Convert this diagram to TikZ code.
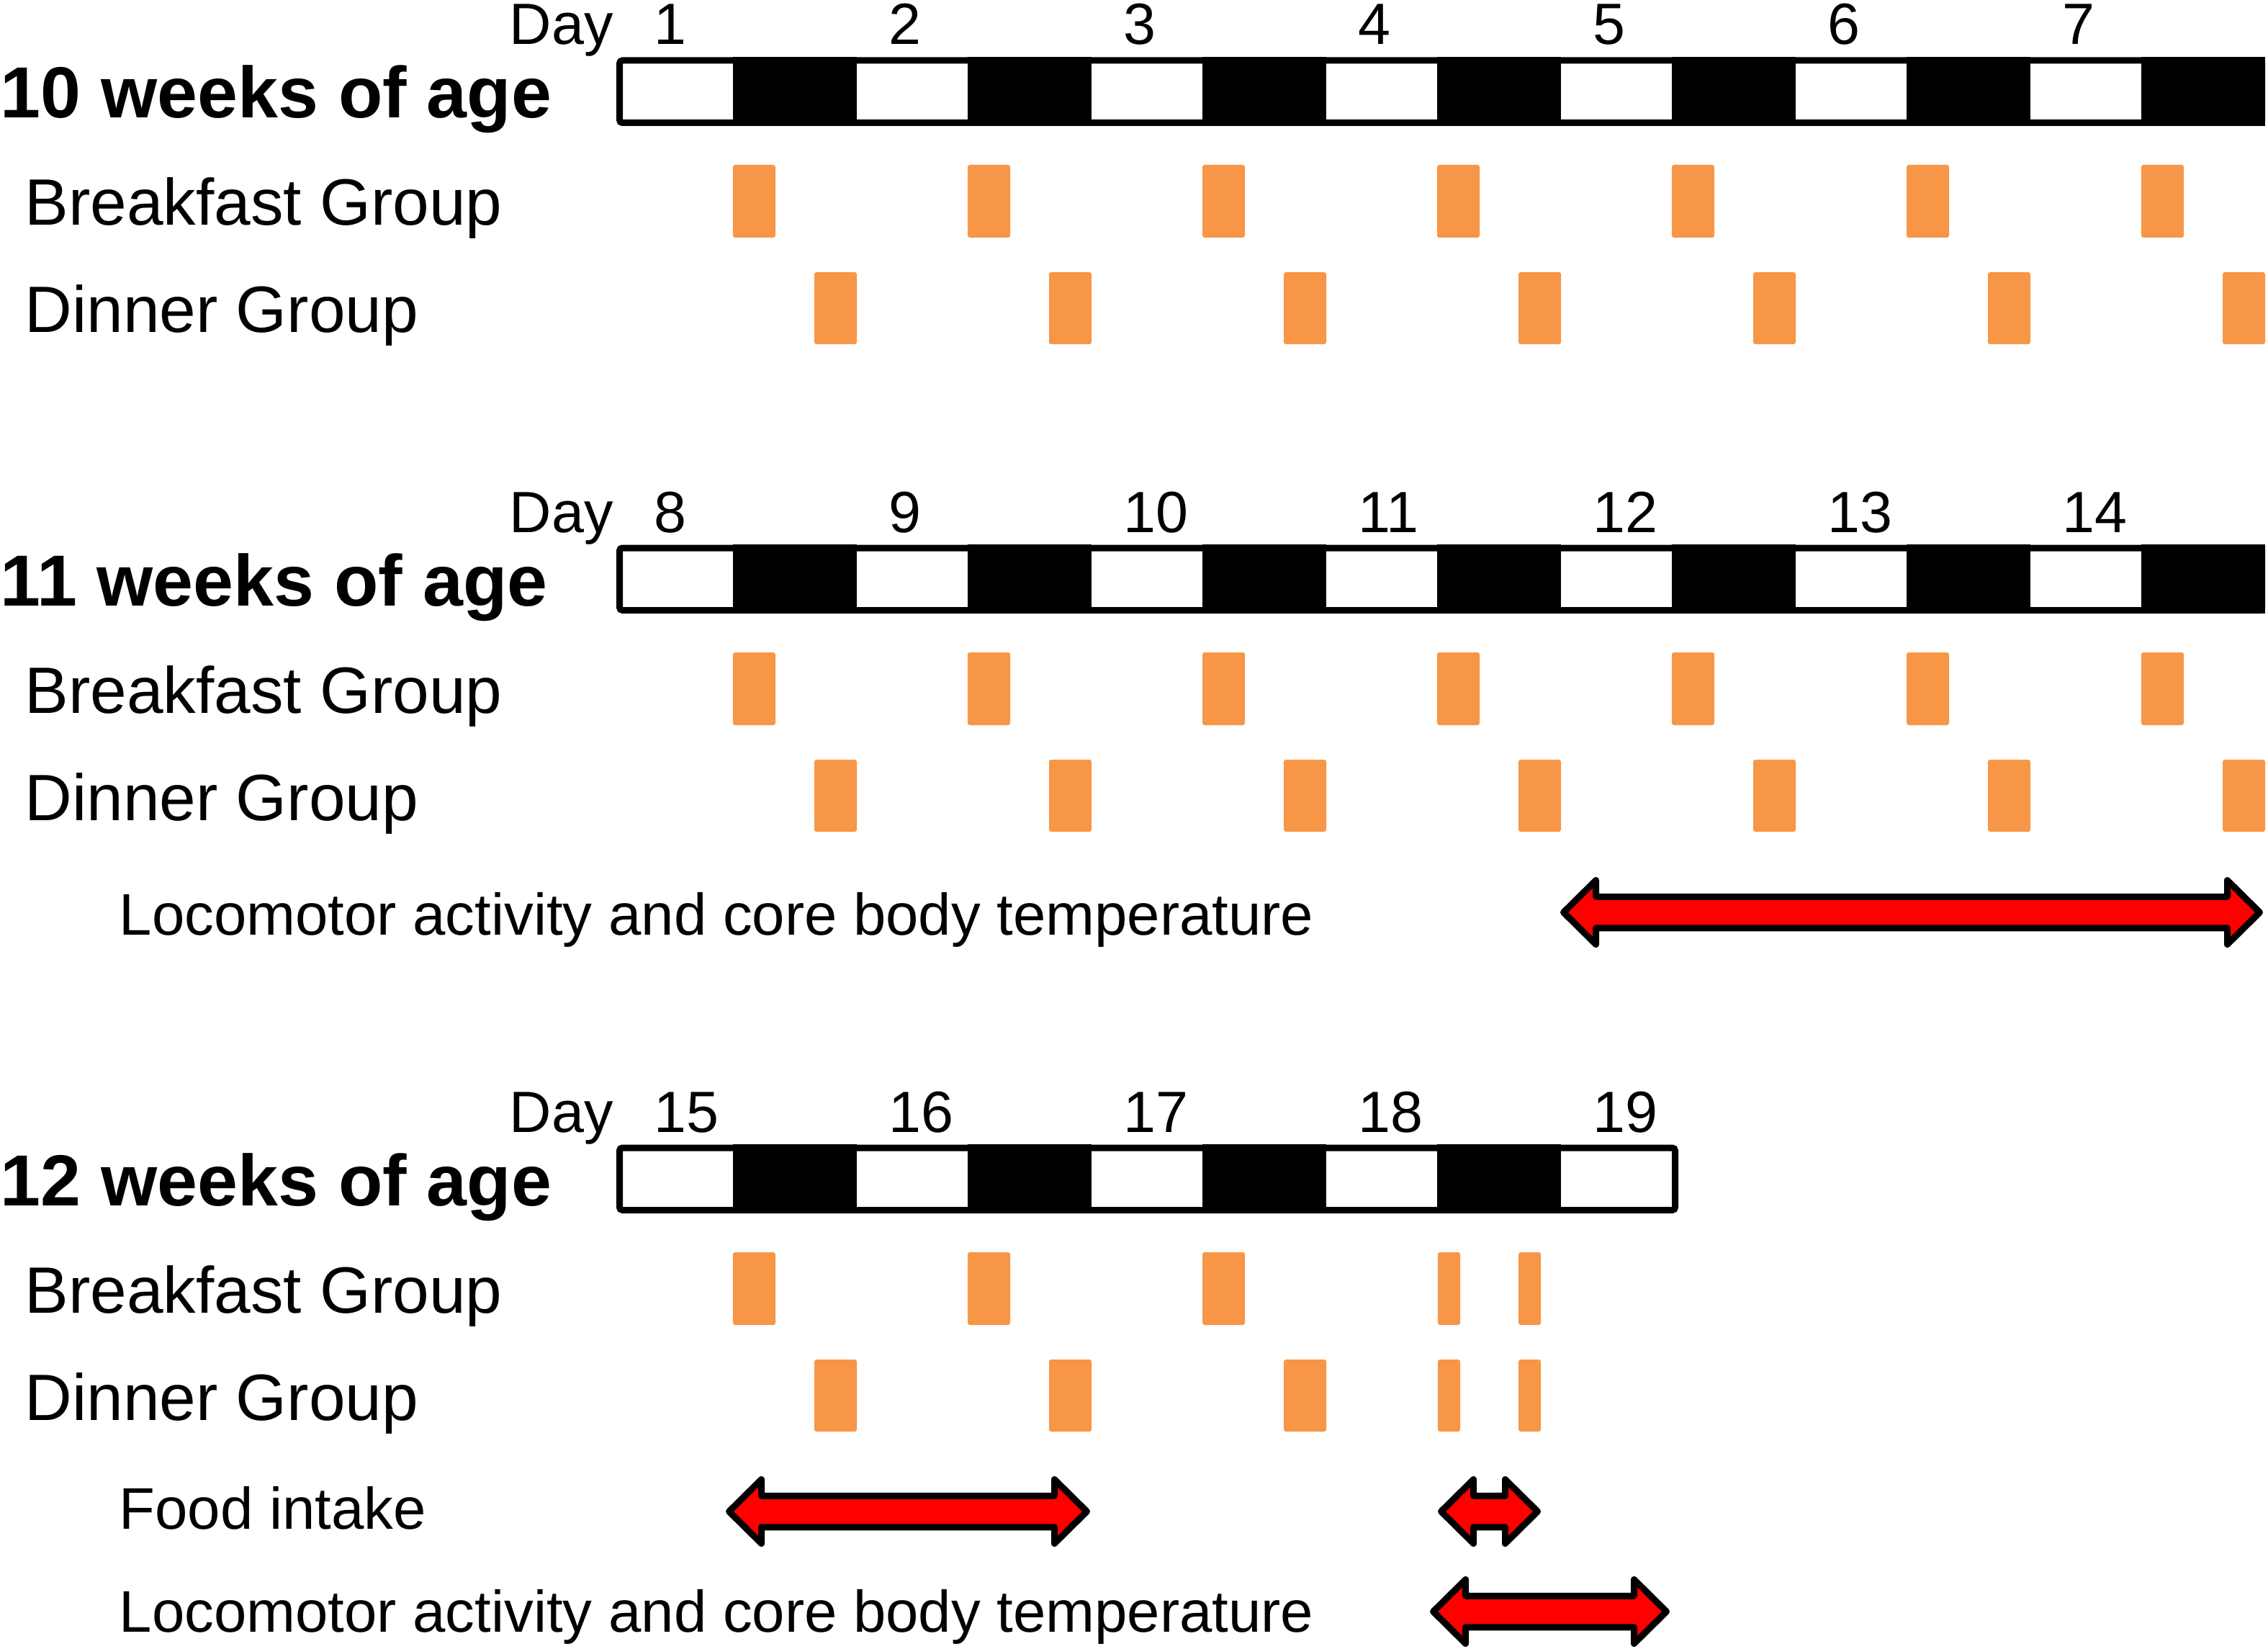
\documentclass[tikz,border=0pt]{standalone}
\usepackage{fontspec}
\setmainfont{Liberation Sans}
\usetikzlibrary{calc}
\definecolor{mealorange}{HTML}{F79646}
\tikzset{
  daytext/.style={font=\fontsize{23}{27}\selectfont, inner sep=0pt, anchor=base west},
  agetext/.style={font=\fontsize{28.6}{34}\selectfont\bfseries, inner sep=0pt, anchor=base west},
  grouptext/.style={font=\fontsize{25.9}{31}\selectfont, inner sep=0pt, anchor=base west},
  measuretext/.style={font=\fontsize{23.2}{28}\selectfont, inner sep=0pt, anchor=base west},
  lightbar/.style={draw=black, line width=0.09cm, rounded corners=0.04cm},
  darkphase/.style={fill=black},
  meal/.style={fill=mealorange, rounded corners=0.03cm},
  period/.style={draw=black, fill=red, line width=0.09cm, line join=round}
}
% block arrow with two heads between tips #1 and #2
\newcommand{\spanarrow}[2]{%
  \draw[period] (#1) -- ++(0.45,0.445) -- ++(0,-0.2275) -- ($(#2)+(-0.45,0.2175)$)
    -- ++(0,0.2275) -- (#2) -- ++(-0.45,-0.445) -- ++(0,0.2275)
    -- ($(#1)+(0.45,-0.2175)$) -- ++(0,-0.2275) -- cycle;}
\begin{document}
\begin{tikzpicture}
  \useasboundingbox (0,0) rectangle (31.5,-22.9);

  % 10 weeks
  \begin{scope}
    \node[daytext] (dayA) at (7.07,-0.62) {Day};
    \foreach \d [count=\k from 0] in {1,...,7}
      \node[daytext] (dayA\d) at ({9.08+3.26*\k},-0.62) {\d};
    \foreach \k in {0,...,6}
      \fill[darkphase] ({10.18+3.26*\k},-0.79) rectangle ({11.90+3.26*\k},-1.75);
    \draw[lightbar] (8.605,-0.84) rectangle (31.415,-1.705);
    \node[agetext] (ageA) at (0,-1.64) {10 weeks of age};
    \node[grouptext] (breakfastA) at (0.34,-3.13) {Breakfast Group};
    \node[grouptext] (dinnerA) at (0.34,-4.62) {Dinner Group};
    \foreach \k in {0,...,6} {
      \fill[meal] ({10.18+3.26*\k},-2.29) rectangle ++(0.59,-1.01);
      \fill[meal] ({11.31+3.26*\k},-3.78) rectangle ++(0.59,-1.00);
    }
  \end{scope}

  % 11 weeks
  \begin{scope}[yshift=-6.77cm]
    \node[daytext] (dayB) at (7.07,-0.62) {Day};
    \foreach \d [count=\k from 0] in {8,...,14}
      \node[daytext] (dayB\d) at ({9.08+3.26*\k},-0.62) {\d};
    \foreach \k in {0,...,6}
      \fill[darkphase] ({10.18+3.26*\k},-0.79) rectangle ({11.90+3.26*\k},-1.75);
    \draw[lightbar] (8.605,-0.84) rectangle (31.415,-1.705);
    \node[agetext] (ageB) at (0,-1.64) {11 weeks of age};
    \node[grouptext] (breakfastB) at (0.34,-3.13) {Breakfast Group};
    \node[grouptext] (dinnerB) at (0.34,-4.62) {Dinner Group};
    \foreach \k in {0,...,6} {
      \fill[meal] ({10.18+3.26*\k},-2.29) rectangle ++(0.59,-1.01);
      \fill[meal] ({11.31+3.26*\k},-3.78) rectangle ++(0.59,-1.00);
    }
    \node[measuretext] (locoB) at (1.65,-6.21) {Locomotor activity and core body temperature};
    \coordinate (locoBl) at (21.715,-5.90);
    \coordinate (locoBr) at (31.385,-5.90);
    \spanarrow{locoBl}{locoBr}
  \end{scope}

  % 12 weeks
  \begin{scope}[yshift=-15.10cm]
    \node[daytext] (dayC) at (7.07,-0.62) {Day};
    \foreach \d [count=\k from 0] in {15,...,19}
      \node[daytext] (dayC\d) at ({9.08+3.26*\k},-0.62) {\d};
    \foreach \k in {0,...,3}
      \fill[darkphase] ({10.18+3.26*\k},-0.79) rectangle ({11.90+3.26*\k},-1.75);
    \draw[lightbar] (8.605,-0.84) rectangle (23.265,-1.705);
    \node[agetext] (ageC) at (0,-1.64) {12 weeks of age};
    \node[grouptext] (breakfastC) at (0.34,-3.13) {Breakfast Group};
    \node[grouptext] (dinnerC) at (0.34,-4.62) {Dinner Group};
    \foreach \k in {0,...,2} {
      \fill[meal] ({10.18+3.26*\k},-2.29) rectangle ++(0.59,-1.01);
      \fill[meal] ({11.31+3.26*\k},-3.78) rectangle ++(0.59,-1.00);
    }
    \foreach \x in {19.97,21.09} {
      \fill[meal] (\x,-2.29) rectangle ++(0.31,-1.01);
      \fill[meal] (\x,-3.78) rectangle ++(0.31,-1.00);
    }
    \node[measuretext] (foodC) at (1.65,-6.13) {Food intake};
    \coordinate (foodCl) at (10.125,-5.89);
    \coordinate (foodCr) at (15.095,-5.89);
    \spanarrow{foodCl}{foodCr}
    \coordinate (foodCl2) at (20.015,-5.89);
    \coordinate (foodCr2) at (21.355,-5.89);
    \spanarrow{foodCl2}{foodCr2}
    \node[measuretext] (locoC) at (1.65,-7.56) {Locomotor activity and core body temperature};
    \coordinate (locoCl) at (19.905,-7.28);
    \coordinate (locoCr) at (23.145,-7.28);
    \spanarrow{locoCl}{locoCr}
  \end{scope}
\end{tikzpicture}
\end{document}
